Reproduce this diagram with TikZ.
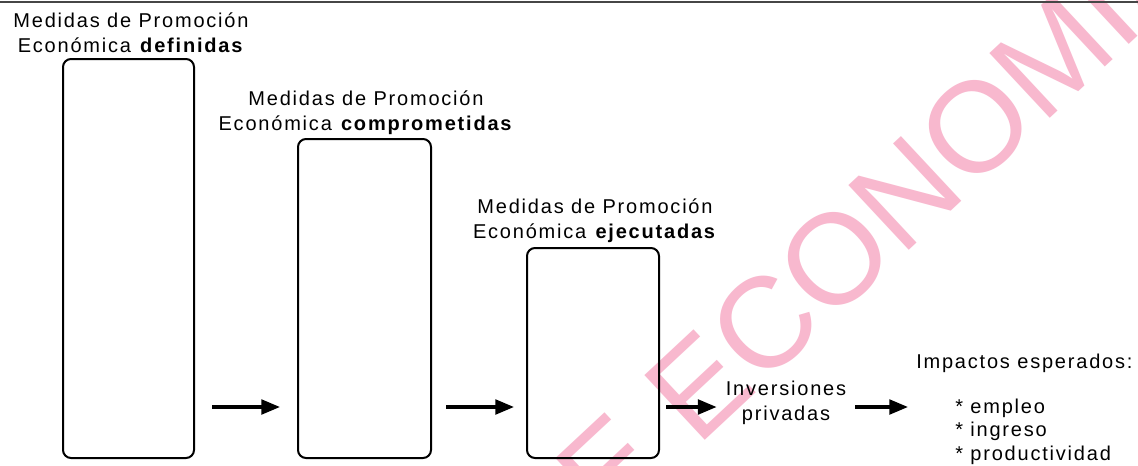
\documentclass[tikz,border=0pt]{standalone}
\usepackage{fontspec}
\setmainfont{Liberation Sans}[LetterSpace=9]
\newfontfamily\wmfont{Liberation Sans}
\usetikzlibrary{arrows.meta,fit}
\definecolor{wmpink}{RGB}{248,184,206}
\definecolor{framegray}{RGB}{70,70,70}
\tikzset{
  px/.style={x=0.75pt,y=-0.75pt},
  box/.style={draw=black, line width=1.5pt, rounded corners=6pt, inner sep=0pt},
  lbl/.style={font=\fontsize{15}{18.4}\selectfont, align=center, inner sep=0pt, anchor=base},
  lbll/.style={font=\fontsize{15}{17.3}\selectfont, align=left, inner sep=0pt, anchor=base west},
  arr/.style={-{Triangle[length=14pt,width=11pt]}, line width=2.4pt},
  wm/.style={font=\wmfont\fontsize{96.5}{100}\selectfont, text=wmpink, inner sep=0pt}
}
\begin{document}
\begin{tikzpicture}[px]
\useasboundingbox (0,0) rectangle (1138,465);
\fill[white] (0,0) rectangle (1138,465);
% watermark
\begin{scope}
  \clip (0,0) rectangle (1138,465);
  \node[wm, rotate=43] (wm) at (845,249) {DE ECONOMIA};
\end{scope}
% frame line at top
\draw[framegray, line width=1.5pt] (0,2) -- (1138,2);
% boxes
\coordinate (b1a) at (63,59);  \coordinate (b1b) at (194,458);
\coordinate (b2a) at (298,139); \coordinate (b2b) at (431,458);
\coordinate (b3a) at (527,248); \coordinate (b3b) at (659,458);
\node[box, fit=(b1a)(b1b)] (b1) {};
\node[box, fit=(b2a)(b2b)] (b2) {};
\node[box, fit=(b3a)(b3b)] (b3) {};
% labels (anchored at the baseline of their last line)
\node[lbl] (l1) at (131,52.5) {Medidas de Promoción\\Económica \textbf{definidas}};
\node[lbl] (l2) at (366,130) {Medidas de Promoción\\Económica \textbf{comprometidas}};
\node[lbl] (l3) at (595,238) {Medidas de Promoción\\Económica \textbf{ejecutadas}};
\node[lbl] (inv) at (786,420) {Inversiones\\privadas};
\node[lbll] (imp) at (916,368) {Impactos esperados:};
\node[lbll] (lst) at (955,460) {* empleo\\* ingreso\\* productividad};
% arrows
\coordinate (row) at (0,407);
\draw[arr, shorten <=12.75pt, shorten >=12.75pt] (b1.east |- row) -- (b2.west |- row);
\draw[arr, shorten <=10.5pt, shorten >=9pt] (b2.east |- row) -- (b3.west |- row);
\draw[arr, shorten <=4.5pt, shorten >=6.75pt] (b3.east |- row) -- (inv.west |- row);
\draw[arr, shorten <=6.75pt, shorten >=6pt] (inv.east |- row) -- (imp.west |- row);
\end{tikzpicture}
\end{document}
